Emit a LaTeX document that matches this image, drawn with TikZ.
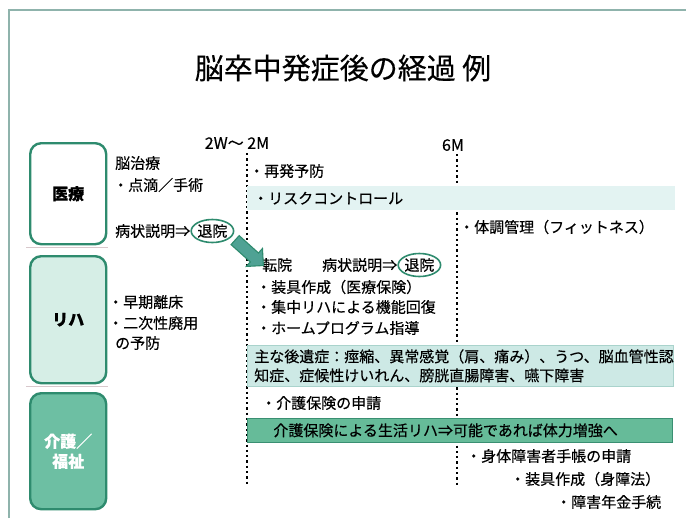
\documentclass[tikz,border=0pt]{standalone}
\usepackage{fontspec}
\setmainfont{Noto Sans CJK JP}[FakeBold=0.35]
\usetikzlibrary{shapes.arrows,shapes.geometric,calc}
\definecolor{framec}{HTML}{8FB3AC}
\definecolor{boxline}{HTML}{2E8B6E}
\definecolor{rihafill}{HTML}{D6EEE6}
\definecolor{kaigofill}{HTML}{6DBFA3}
\definecolor{bandA}{HTML}{E3F3F2}
\definecolor{bandB}{HTML}{CDE9E5}
\definecolor{bandBline}{HTML}{A9D3CC}
\definecolor{bandC}{HTML}{66BB99}
\definecolor{bandCline}{HTML}{3A8F72}
\definecolor{arrowc}{HTML}{4FA294}
\definecolor{sepc}{HTML}{D8C8CC}
\begin{document}
\begin{tikzpicture}[x=1pt,y=-1pt,
  txt/.style={anchor=west,inner sep=0pt,font=\fontsize{15}{19}\selectfont},
  catbox/.style={draw=boxline,line width=2.4pt,rounded corners=11pt,minimum width=76pt,inner sep=0pt,font=\fontsize{16}{20}\selectfont\bfseries,align=center},
  exitmark/.style={ellipse,draw=boxline,line width=1.6pt,minimum width=42pt,minimum height=23pt,inner sep=0pt,font=\fontsize{15}{19}\selectfont},
  timeline/.style={line width=2.3pt,dash pattern=on 2.3pt off 3pt},
  band/.style={anchor=north west,inner xsep=6pt,inner ysep=0pt,align=left,font=\fontsize{15}{19}\selectfont},
  tick/.style={inner sep=0pt,font=\fontsize{16}{20}\selectfont}
]
\useasboundingbox (0,0) rectangle (686,523);
\fill[white] (0,0) rectangle (686,523);
% slide frame
\draw[framec,line width=1.2pt] (9,518) -- (9,10) -- (686,10);
% title
\node[inner sep=0pt,font=\fontsize{29}{34}\selectfont] (title) at (343,68) {脳卒中発症後の経過 例};
% time marks
\node[tick] (t1) at (237,143) {2W～ 2M};
\node[tick] (t2) at (453,145) {6M};
\coordinate (l1top) at (247,153);
\coordinate (l1bot) at (247,485);
\coordinate (l2top) at (457,154);
\coordinate (l2bot) at (457,485);
\draw[timeline] (l1top) -- (l1bot);
\draw[timeline] (l2top) -- (l2bot);
% category boxes
\node[catbox,minimum height=101pt,anchor=north west] (iryo) at (29,142) {医療};
\node[catbox,fill=rihafill,minimum height=127pt,anchor=north west] (riha) at (29,255) {リハ};
\node[catbox,fill=kaigofill,minimum height=116pt,anchor=north west,text=white] (kaigo) at (29,392) {介護／\\福祉};
\draw[sepc,line width=0.8pt] (26,247) -- (108,247);
\draw[sepc,line width=0.8pt] (26,386) -- (108,386);
% bands
\node[band,fill=bandA,minimum width=428pt,minimum height=24pt,text width=416pt] (risk) at (247,186) {・リスクコントロール};
\node[band,fill=bandB,draw=bandBline,line width=0.6pt,minimum width=424pt,minimum height=41pt,text width=412pt,inner xsep=7pt] (kouisho) at (247,345) {主な後遺症：痙縮、異常感覚（肩、痛み）、うつ、脳血管性認\\知症、症候性けいれん、膀胱直腸障害、嚥下障害};
\node[band,fill=bandC,draw=bandCline,line width=0.8pt,minimum width=425pt,minimum height=24pt,text width=413pt] (seikatsu) at (247,418) {\hspace*{20pt}介護保険による生活リハ⇒可能であれば体力増強へ};
% medical row
\node[txt] (nou) at (115,163) {脳治療};
\node[txt] (tenteki) at (113,185) {・点滴／手術};
\node[txt] (setsu1) at (115,231) {病状説明⇒};
\node[exitmark,anchor=west] (taiin1) at (setsu1.east) {退院};
\node[txt] (saihatsu) at (249,171) {・再発予防};
\node[txt] (taicho) at (459,227) {・体調管理（フィットネス）};
% rehab row
\node[txt] (tenin) at (262,265) {転院};
\node[txt] (setsu2) at (322,265) {病状説明⇒};
\node[exitmark,anchor=west] (taiin2) at (setsu2.east) {退院};
\node[txt] (sougu1) at (256,287) {・装具作成（医療保険）};
\node[txt] (shuchu) at (256,307) {・集中リハによる機能回復};
\node[txt] (home) at (256,328) {・ホームプログラム指導};
\node[txt] (souki) at (108,302) {・早期離床};
\node[txt] (niji) at (108,323) {・二次性廃用};
\node[txt] (yobo) at (115,343) {の予防};
% care row
\node[txt] (shinsei) at (261,403) {・介護保険の申請};
\node[txt] (techo) at (466,456) {・身体障害者手帳の申請};
\node[txt] (sougu2) at (510,479) {・装具作成（身障法）};
\node[txt] (nenkin) at (556,502) {・障害年金手続};
% transfer arrow
\node[single arrow,draw=boxline,fill=arrowc,line width=1.1pt,minimum height=38pt,inner sep=0pt,inner ysep=5.5pt,single arrow head extend=6pt,single arrow head indent=0pt,rotate=-42] (transfer) at ($(taiin1.south east)!0.5!(tenin.north west)+(2,2)$) {};
\end{tikzpicture}
\end{document}
